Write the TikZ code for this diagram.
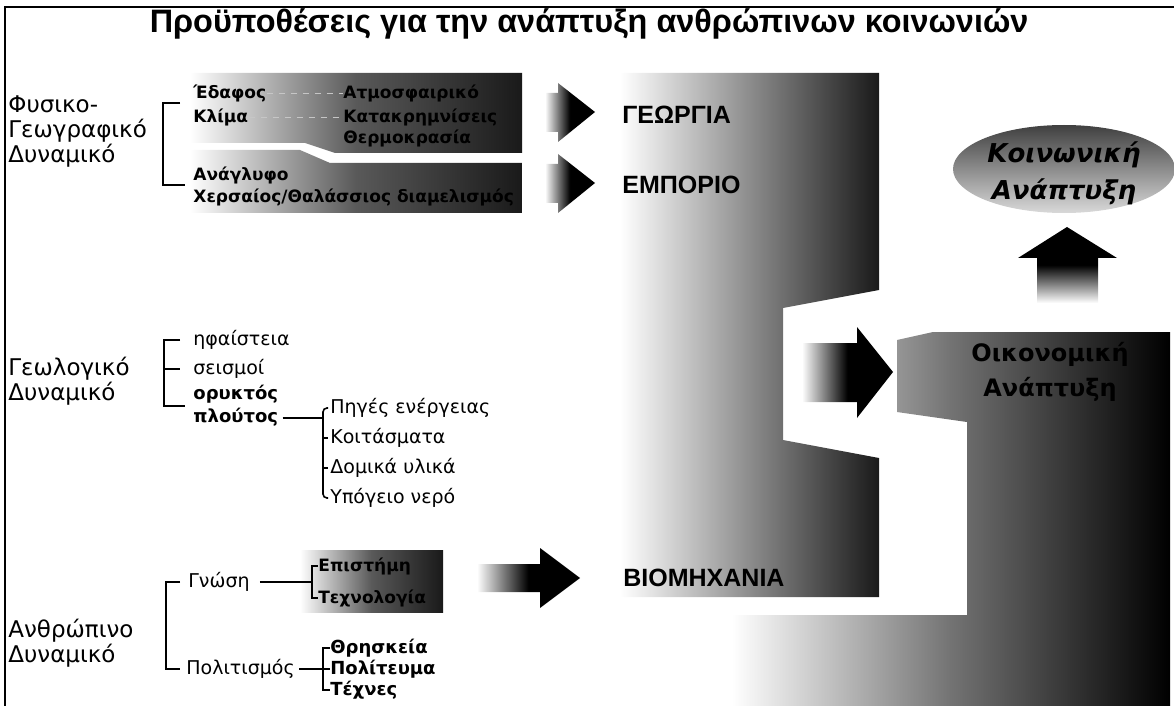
\documentclass[tikz,border=0pt]{standalone}
\usepackage{fontspec}
\setmainfont{DejaVu Sans}[ItalicFont=DejaVu Sans Oblique, BoldItalicFont=DejaVu Sans Bold Oblique]
\newfontfamily\titlefont{Liberation Sans}
\begin{document}
\begin{tikzpicture}[x=0.5pt,y=-0.5pt,
	grouplbl/.style={anchor=west, inner sep=0pt, align=left, font=\fontsize{11.5}{12.5}\selectfont},
	sublbl/.style={anchor=west, inner sep=0pt, font=\fontsize{9.5}{11}\selectfont},
	boldlbl/.style={anchor=west, inner sep=0pt, align=left, font=\fontsize{9}{11.5}\selectfont\bfseries},
	boxlbl/.style={anchor=west, inner sep=0pt, font=\fontsize{8.5}{10}\selectfont\bfseries},
	caplbl/.style={anchor=west, inner sep=0pt, font=\titlefont\fontsize{12.5}{14}\selectfont\bfseries},
	brline/.style={line width=0.8pt},
	darkbox/.style={left color=white, right color=black!90, middle color=black!65},
	bigarrow/.style={left color=white, right color=black, middle color=black}
	]
	\useasboundingbox (0,0) rectangle (1174,706);
	%frame and title
	\draw[line width=1pt] (1174,7) -- (5,7) -- (5,706); %frame
	\node[font=\titlefont\fontsize{16.2}{18}\selectfont\bfseries] (title) at (589,24) {Προϋποθέσεις για την ανάπτυξη ανθρώπινων κοινωνιών};

	%Physical-geographic-----------------------------------
	\node[grouplbl] (fysiko) at (8,132) {Φυσικο-\\Γεωγραφικό\\Δυναμικό};
	\shade[darkbox] (190,73) -- (522,73) -- (522,153) -- (335,153) -- (305,143) -- (190,143) -- cycle; %climate box
	\shade[darkbox] (190,150) -- (300,150) -- (330,163) -- (522,163) -- (522,213) -- (190,213) -- cycle; %relief box
	\node[boxlbl] (edafos) at (193,93) {Έδαφος};
	\node[boxlbl] (klima) at (193,117) {Κλίμα};
	\node[boxlbl] (atmosf) at (343,93) {Ατμοσφαιρικό};
	\node[boxlbl] (katakr) at (343,117) {Κατακρημνίσεις};
	\node[boxlbl] (thermo) at (343,138) {Θερμοκρασία};
	\node[boxlbl] (anaglyfo) at (193,175) {Ανάγλυφο};
	\node[boxlbl] (diamel) at (193,197) {Χερσαίος/Θαλάσσιος διαμελισμός};
	\draw[gray!45, dashed] (edafos) -- (atmosf); %faint link
	\draw[gray!45, dashed] (klima) -- (katakr); %faint link
	\coordinate (climtick) at (180,103); %top tick end
	\coordinate (relieftick) at (185,185); %bottom tick end
	\coordinate (sp1) at (163,0); %spine x
	\draw[brline] (climtick) -| (sp1 |- relieftick) -- (relieftick); %bracket

	\shade[bigarrow] (545,93) -- (558,93) -- (558,83) -- (595,112) -- (558,142) -- (558,132) -- (545,132) -- cycle; %arrow georgia
	\shade[bigarrow] (545,164) -- (558,164) -- (558,154) -- (595,183) -- (558,213) -- (558,203) -- (545,203) -- cycle; %arrow emporio

	%Geological--------------------------------------------
	\node[grouplbl] (geolog) at (8,381) {Γεωλογικό\\Δυναμικό};
	\node[sublbl] (ifaist) at (193,340) {ηφαίστεια};
	\node[sublbl] (seismoi) at (193,369) {σεισμοί};
	\node[boldlbl] (oryktos) at (193,406) {ορυκτός\\πλούτος};
	\coordinate (sp2) at (164,0); %spine x
	\draw[brline] ([xshift=-6.5pt]ifaist.west) -| (sp2 |- oryktos) -- ([xshift=-4pt]oryktos.west); %bracket
	\draw[brline] (sp2 |- seismoi) -- ([xshift=-6.5pt]seismoi.west); %middle tick

	\node[sublbl] (piges) at (330,408) {Πηγές ενέργειας};
	\node[sublbl] (koitasm) at (330,438) {Κοιτάσματα};
	\node[sublbl] (domika) at (330,468) {Δομικά υλικά};
	\node[sublbl] (ypogeio) at (330,498) {Υπόγειο νερό};
	\coordinate (sp3) at (323,0); %spine x
	\draw[brline, rounded corners=2pt] ([xshift=-1pt]piges.west) -| (sp3 |- ypogeio) -- ([xshift=-1pt]ypogeio.west); %bracket
	\draw[brline] (sp3 |- koitasm) -- ([xshift=-1pt]koitasm.west);
	\draw[brline] (sp3 |- domika) -- ([xshift=-1pt]domika.west);
	\coordinate (ploutos) at ([xshift=2pt,yshift=-6pt]oryktos.east); %second line
	\draw[brline] (ploutos) -- (sp3 |- ploutos); %link

	%Human-------------------------------------------------
	\node[grouplbl] (anthrop) at (8,643) {Ανθρώπινο\\Δυναμικό};
	\node[sublbl] (gnosi) at (188,582) {Γνώση};
	\node[sublbl] (politism) at (186,669) {Πολιτισμός};
	\coordinate (sp4) at (166,0); %spine x
	\draw[brline] ([xshift=-4pt]gnosi.west) -| (sp4 |- politism) -- ([xshift=-3pt]politism.west); %bracket

	\shade[darkbox] (300,550) rectangle (443,612); %science box
	\node[boxlbl] (epist) at (318,566) {Επιστήμη};
	\node[boxlbl] (technol) at (318,598) {Τεχνολογία};
	\coordinate (sp5) at (312,0); %spine x
	\draw[brline] (epist.west) -| (sp5 |- technol) -- (technol.west); %bracket
	\draw[brline] ([xshift=5pt]gnosi.east) -- (sp5 |- gnosi); %link

	\node[boldlbl] (thriskeia) at (330,648) {Θρησκεία};
	\node[boldlbl] (politeuma) at (330,669) {Πολίτευμα};
	\node[boldlbl] (technes) at (330,690) {Τέχνες};
	\coordinate (sp6) at (323,0); %spine x
	\draw[brline] (thriskeia.west) -| (sp6 |- technes) -- (technes.west); %bracket
	\draw[brline] (sp6 |- politeuma) -- (politeuma.west);
	\draw[brline] ([xshift=2pt]politism.east) -- (sp6 |- politism); %link

	\shade[bigarrow] (477,564) -- (540,564) -- (540,548) -- (580,578) -- (540,608) -- (540,592) -- (477,592) -- cycle; %arrow industry

	%Sectors and development-------------------------------
	\shade[left color=white, right color=black!90] (620,73) -- (879,73) -- (879,290) -- (783,308) -- (783,440) -- (879,458) -- (879,597) -- (620,597) -- cycle; %sectors block
	\node[caplbl] (georgia) at (622,115) {ΓΕΩΡΓΙΑ};
	\node[caplbl] (emporio) at (622,185) {ΕΜΠΟΡΙΟ};
	\node[caplbl] (viomix) at (623,578) {ΒΙΟΜΗΧΑΝΙΑ};

	\shade[bigarrow] (802,343) -- (857,343) -- (857,327) -- (893,372) -- (857,418) -- (857,402) -- (802,402) -- cycle; %arrow economy

	\shade[left color=white, right color=black, middle color=black!55] (732,706) -- (732,615) -- (967,615) -- (967,422) -- (897,412) -- (897,340) -- (933,332) -- (1170,332) -- (1170,706) -- cycle; %economy block
	\node[inner sep=0pt, align=center, font=\fontsize{12}{17.5}\selectfont\bfseries] (oikonom) at (1050,372) {Οικονομική\\Ανάπτυξη};

	\shade[top color=black, bottom color=white, middle color=black] (1037,303) -- (1037,258) -- (1018,258) -- (1067,227) -- (1117,258) -- (1098,258) -- (1098,303) -- cycle; %arrow up
	\shade[top color=black!75, bottom color=black!15] (1064,169) ellipse [x radius=55.5pt, y radius=22pt]; %social ellipse
	\node[inner sep=0pt, align=center, font=\fontsize{13}{18.5}\selectfont\bfseries\itshape] (koinon) at (1064,173) {Κοινωνική\\Ανάπτυξη};
\end{tikzpicture}
\end{document}
